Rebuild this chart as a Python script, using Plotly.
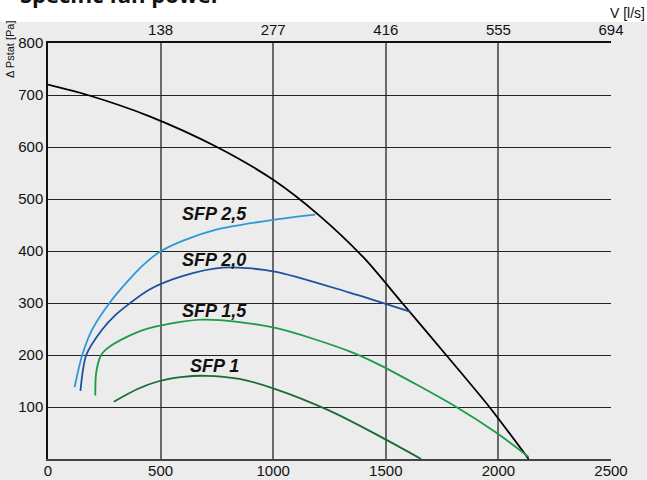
import plotly.graph_objects as go

# Data (airflow in m3/h, static pressure in Pa)
sys_x = [0, 176, 451, 750, 1000, 1200, 1400, 1573, 1768, 1960, 2134]
sys_y = [720, 700, 659, 600, 537, 470, 388, 300, 200, 100, 0]

sfp25_x = [118, 152, 195, 273, 350, 420, 495, 600, 747, 1000, 1187]
sfp25_y = [138, 200, 248, 300, 340, 372, 398, 420, 441, 460, 470]

sfp20_x = [144, 170, 239, 300, 350, 451, 600, 775, 1000, 1339, 1610]
sfp20_y = [131, 200, 248, 277, 295, 326, 352, 368, 361, 320, 283]

sfp15_x = [210, 214, 236, 273, 421, 686, 1000, 1339, 1472, 1813, 1996, 2134]
sfp15_y = [122, 166, 200, 216, 248, 268, 253, 207, 181, 100, 49, 4]

sfp10_x = [292, 400, 495, 600, 700, 850, 1000, 1250, 1472, 1657]
sfp10_y = [110, 135, 150, 158, 160, 154, 136, 93, 44, 0]

labels = ["SFP 2,5", "SFP 2,0", "SFP 1,5", "SFP 1"]
label_x = [739, 739, 739, 741]
label_y = [472, 383, 284, 178]

x_ticks = [0, 500, 1000, 1500, 2000, 2500]
top_ticks = [500, 1000, 1500, 2000, 2500]
top_labels = ["138", "277", "416", "555", "694"]
y_ticks = [100, 200, 300, 400, 500, 600, 700, 800]

BG = "#ebeceb"
fig = go.Figure()

series = [
    (sys_x, sys_y, "#000000", 1.8),
    (sfp25_x, sfp25_y, "#2b9ad6", 1.8),
    (sfp20_x, sfp20_y, "#1f4f9e", 1.8),
    (sfp15_x, sfp15_y, "#1d9a4a", 1.8),
    (sfp10_x, sfp10_y, "#1a6b35", 1.8),
]
for xs, ys, c, w in series:
    fig.add_trace(go.Scatter(x=xs, y=ys, mode="lines", line=dict(color=c, width=w, shape="spline", smoothing=0.8),
                             showlegend=False, hoverinfo="skip"))

# invisible trace for top axis
fig.add_trace(go.Scatter(x=[0, 2500], y=[0, 0], xaxis="x2", mode="lines", line=dict(width=0),
                         showlegend=False, hoverinfo="skip"))

for t, lx, ly in zip(labels, label_x, label_y):
    fig.add_annotation(x=lx, y=ly, text="<b><i>" + t + "</i></b>", showarrow=False,
                       font=dict(family="Liberation Sans, Arial", size=18, color="#111111"))

tickfont = dict(family="Liberation Sans, Arial", size=15, color="#111111")

fig.update_layout(
    width=647, height=480,
    margin=dict(l=48, r=36, t=43, b=21),
    paper_bgcolor=BG, plot_bgcolor=BG,
    xaxis=dict(range=[0, 2500], tickvals=x_ticks, ticks="", showgrid=True, gridcolor="#6a6a6a", gridwidth=2,
               zeroline=False, showline=True, linecolor="#444444", linewidth=2, tickfont=tickfont,
               automargin=False, ticklabelstandoff=-3),
    xaxis2=dict(range=[0, 2500], overlaying="x", side="top", tickvals=top_ticks, ticktext=top_labels,
                ticks="", showgrid=False, zeroline=False, showline=True, linecolor="#111111", linewidth=1.5,
                tickfont=tickfont, automargin=False),
    yaxis=dict(range=[0, 800], tickvals=y_ticks, ticks="", showgrid=True, gridcolor="#222222", gridwidth=1.3,
               zeroline=False, showline=True, linecolor="#111111", linewidth=1.5, tickfont=tickfont,
               automargin=False),
    shapes=[dict(type="rect", xref="paper", yref="paper", x0=-0.2, x1=1.2,
                 y0=(459 - 22) / 416, y1=1.3, fillcolor="white", line=dict(width=0), layer="below")],
)

fig.add_annotation(xref="paper", yref="paper", x=(18 - 48) / 563, y=(459 - 11) / 416,
                   xanchor="left", yanchor="bottom", showarrow=False,
                   text="<b>Specific fan power</b>",
                   font=dict(family="Open Sans", size=22, color="#111111"))
fig.add_annotation(xref="paper", yref="paper", x=(647 - 48) / 563, y=(459 - 13) / 416,
                   xanchor="right", yanchor="middle", showarrow=False, text="V [l/s]",
                   font=dict(family="Liberation Sans, Arial", size=14, color="#111111"))
fig.add_annotation(xref="paper", yref="paper", x=(10 - 48) / 563, y=(459 - 49) / 416,
                   xanchor="center", yanchor="middle", showarrow=False, textangle=-90,
                   text="Δ Pstat [Pa]",
                   font=dict(family="Liberation Sans, Arial", size=11, color="#111111"))
fig.add_annotation(xref="paper", yref="paper", x=(647 - 48) / 563, y=(459 - 476) / 416,
                   xanchor="right", yanchor="top", showarrow=False, text="V [m³/h]",
                   font=dict(family="Liberation Sans, Arial", size=12, color="#111111"))

fig.write_html("out.html", config={"displayModeBar": False},
               post_script="document.body.style.margin='0';")
